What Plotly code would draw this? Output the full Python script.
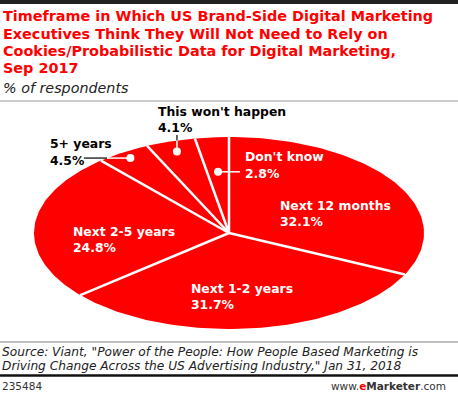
import numpy as np
import plotly.graph_objects as go

categories = ["Next 12 months", "Next 1-2 years", "Next 2-5 years", "5+ years", "This won't happen", "Don't know"]
values = [32.1, 31.7, 24.8, 4.5, 4.1, 2.8]

W, H = 458, 393
CX, CY, RX, RY = 229, 233, 195, 96
RED = "#ff0000"

def xp(px):
    return px / W

def yp(py):
    return 1 - py / H

def pu(px):
    return (px - CX) / RX

def pv(py):
    return (CY - py) / RY

fig = go.Figure()

total = sum(values)
cum = np.concatenate([[0], np.cumsum(values)]) / total * 2 * np.pi
# wedges
for i, cat in enumerate(categories):
    t = np.linspace(cum[i], cum[i + 1], 80)
    xs = np.concatenate([[0], np.sin(t), [0]])
    ys = np.concatenate([[0], np.cos(t), [0]])
    fig.add_trace(go.Scatter(x=xs, y=ys, mode="lines", fill="toself", fillcolor=RED,
                             line=dict(width=0, color=RED), hoverinfo="text", text=cat,
                             showlegend=False))
# separators
sx, sy = [], []
for a in cum[:-1]:
    sx += [0, np.sin(a), None]
    sy += [0, np.cos(a), None]
fig.add_trace(go.Scatter(x=sx, y=sy, mode="lines", line=dict(color="white", width=2.5),
                         hoverinfo="skip", showlegend=False))

# leader dots: radial factor per small slice
mid = (cum[:-1] + cum[1:]) / 2
dot_r = {3: 0.93, 4: 0.89, 5: 0.64}
dx = [dot_r[i] * np.sin(mid[i]) for i in dot_r]
dy = [dot_r[i] * np.cos(mid[i]) for i in dot_r]

def edge_u(v):
    return -np.sqrt(1 - v * v)

def edge_v(u):
    return np.sqrt(1 - u * u)

# 5+ years leader
u5, v5 = dx[0], dy[0]
e5 = edge_u(v5)
fig.add_trace(go.Scatter(x=[pu(84), e5], y=[v5, v5], mode="lines", line=dict(color="#333333", width=1.5),
                         hoverinfo="skip", showlegend=False))
fig.add_trace(go.Scatter(x=[e5, u5], y=[v5, v5], mode="lines", line=dict(color="white", width=1.5),
                         hoverinfo="skip", showlegend=False))
# This won't happen leader
u4, v4 = dx[1], dy[1]
e4 = edge_v(u4)
fig.add_trace(go.Scatter(x=[u4, u4], y=[pv(135), e4], mode="lines", line=dict(color="#333333", width=1.5),
                         hoverinfo="skip", showlegend=False))
fig.add_trace(go.Scatter(x=[u4, u4], y=[e4, v4], mode="lines", line=dict(color="white", width=1.5),
                         hoverinfo="skip", showlegend=False))
# Don't know leader
u3, v3 = dx[2], dy[2]
fig.add_trace(go.Scatter(x=[u3, pu(240)], y=[v3, v3], mode="lines", line=dict(color="white", width=1.5),
                         hoverinfo="skip", showlegend=False))
fig.add_trace(go.Scatter(x=dx, y=dy, mode="markers", marker=dict(color="white", size=8),
                         hoverinfo="skip", showlegend=False))

FONT = "DejaVu Sans"
ann = []

def txt(x, y, s, size, color="black", weight="normal", style="normal", xanchor="left"):
    ann.append(dict(x=xp(x), y=yp(y), xref="paper", yref="paper", text=s, showarrow=False,
                    xanchor=xanchor, yanchor="middle",
                    font=dict(family=FONT, size=size, color=color, weight=weight, style=style)))

title_lines = ["Timeframe in Which US Brand-Side Digital Marketing",
               "Executives Think They Will Not Need to Rely on",
               "Cookies/Probabilistic Data for Digital Marketing,",
               "Sep 2017"]
for k, s in enumerate(title_lines):
    txt(1, 16 + 17.5 * k, s, 14.4, RED, "bold")
txt(1, 88, "% of respondents", 14.3, "#222222", style="italic")

pct = [f"{v:.1f}%" for v in values]
label_pos = {0: (279, 205, "white"), 1: (190, 288, "white"), 2: (72, 231, "white"),
             3: (49, 144, "black"), 4: (157, 111, "black"), 5: (244, 157, "white")}
for i, (x, y, c) in label_pos.items():
    txt(x - 1, y, categories[i], 12.4, c, "bold")
    txt(x - 1, y + 16, pct[i], 12.4, c, "bold")

txt(0, 352, "Source: Viant, \"Power of the People: How People Based Marketing is", 12.2, "#222222", style="italic")
txt(0, 366, "Driving Change Across the US Advertising Industry,\" Jan 31, 2018", 12.2, "#222222", style="italic")
txt(0, 386, "235484", 10.5, "#333333")
ann.append(dict(x=xp(448), y=yp(386), xref="paper", yref="paper", showarrow=False, xanchor="right", yanchor="middle",
                text="www.<span style='color:#e00'><b>e</b></span><b>Marketer</b>.com",
                font=dict(family=FONT, size=10.5, color="#333333")))

shapes = [
    dict(type="line", xref="paper", yref="paper", x0=0, x1=1, y0=yp(2), y1=yp(2), line=dict(color="#222222", width=4)),
    dict(type="line", xref="paper", yref="paper", x0=0, x1=1, y0=yp(101), y1=yp(101), line=dict(color="#999999", width=1)),
    dict(type="line", xref="paper", yref="paper", x0=0, x1=1, y0=yp(342), y1=yp(342), line=dict(color="#aaaaaa", width=1.5)),
    dict(type="line", xref="paper", yref="paper", x0=0, x1=1, y0=yp(375.5), y1=yp(375.5), line=dict(color="#111111", width=2.5)),
]

fig.update_layout(
    width=W, height=H, margin=dict(l=0, r=0, t=0, b=0),
    paper_bgcolor="white", plot_bgcolor="white",
    xaxis=dict(range=[pu(0), pu(W)], visible=False, fixedrange=True),
    yaxis=dict(range=[pv(H), pv(0)], visible=False, fixedrange=True),
    annotations=ann, shapes=shapes,
)

fig.write_html("out.html", config={"displayModeBar": False},
               post_script="document.body.style.margin='0';document.body.style.overflow='hidden';")
